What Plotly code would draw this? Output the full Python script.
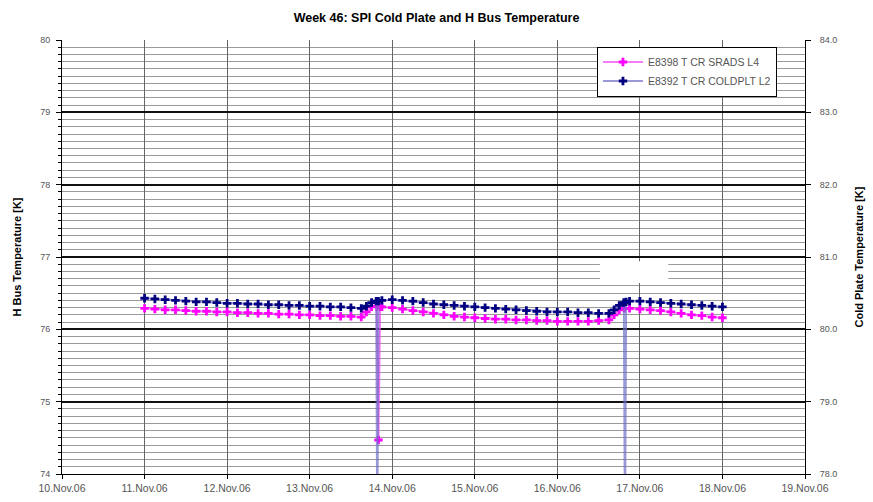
import plotly.graph_objects as go

# ---------------- data ----------------
hbus_times = [
    "2006-11-11 00:00", "2006-11-11 03:00", "2006-11-11 06:00", "2006-11-11 09:00",
    "2006-11-11 12:00", "2006-11-11 15:00", "2006-11-11 18:00", "2006-11-11 21:00",
    "2006-11-12 00:00", "2006-11-12 03:00", "2006-11-12 06:00", "2006-11-12 09:00",
    "2006-11-12 12:00", "2006-11-12 15:00", "2006-11-12 18:00", "2006-11-12 21:00",
    "2006-11-13 00:00", "2006-11-13 03:00", "2006-11-13 06:00", "2006-11-13 09:00",
    "2006-11-13 12:00", "2006-11-13 15:00", "2006-11-13 16:30", "2006-11-13 18:00",
    "2006-11-13 19:30", "2006-11-13 20:00", "2006-11-13 20:30", "2006-11-13 21:00",
    "2006-11-14 00:00", "2006-11-14 03:00", "2006-11-14 06:00", "2006-11-14 09:00",
    "2006-11-14 12:00", "2006-11-14 15:00", "2006-11-14 18:00", "2006-11-14 21:00",
    "2006-11-15 00:00", "2006-11-15 03:00", "2006-11-15 06:00", "2006-11-15 09:00",
    "2006-11-15 12:00", "2006-11-15 15:00", "2006-11-15 18:00", "2006-11-15 21:00",
    "2006-11-16 00:00", "2006-11-16 03:00", "2006-11-16 06:00", "2006-11-16 09:00",
    "2006-11-16 12:00", "2006-11-16 15:00", "2006-11-16 16:30", "2006-11-16 18:00",
    "2006-11-16 19:30", "2006-11-16 21:00",
    "2006-11-17 00:00", "2006-11-17 03:00", "2006-11-17 06:00", "2006-11-17 09:00",
    "2006-11-17 12:00", "2006-11-17 15:00", "2006-11-17 18:00", "2006-11-17 21:00",
    "2006-11-18 00:00",
]
hbus_values = [
    76.29, 76.28, 76.27, 76.27, 76.26, 76.25, 76.25, 76.24,
    76.24, 76.23, 76.23, 76.22, 76.22, 76.21, 76.21, 76.20,
    76.20, 76.19, 76.19, 76.18, 76.18, 76.17, 76.24, 76.31,
    76.32, 74.47, 76.31, 76.31,
    76.30, 76.28, 76.26, 76.24, 76.22, 76.20, 76.18, 76.17,
    76.16, 76.15, 76.14, 76.14, 76.13, 76.13, 76.12, 76.12,
    76.11, 76.11, 76.11, 76.11, 76.12, 76.13, 76.20, 76.27,
    76.29, 76.29,
    76.28, 76.27, 76.26, 76.24, 76.22, 76.20, 76.19, 76.17,
    76.16,
]

cold_times = [
    "2006-11-11 00:00", "2006-11-11 03:00", "2006-11-11 06:00", "2006-11-11 09:00",
    "2006-11-11 12:00", "2006-11-11 15:00", "2006-11-11 18:00", "2006-11-11 21:00",
    "2006-11-12 00:00", "2006-11-12 03:00", "2006-11-12 06:00", "2006-11-12 09:00",
    "2006-11-12 12:00", "2006-11-12 15:00", "2006-11-12 18:00", "2006-11-12 21:00",
    "2006-11-13 00:00", "2006-11-13 03:00", "2006-11-13 06:00", "2006-11-13 09:00",
    "2006-11-13 12:00", "2006-11-13 15:00", "2006-11-13 16:30", "2006-11-13 18:00",
    "2006-11-13 19:20", "2006-11-13 19:40", "2006-11-13 20:00", "2006-11-13 21:00",
    "2006-11-14 00:00", "2006-11-14 03:00", "2006-11-14 06:00", "2006-11-14 09:00",
    "2006-11-14 12:00", "2006-11-14 15:00", "2006-11-14 18:00", "2006-11-14 21:00",
    "2006-11-15 00:00", "2006-11-15 03:00", "2006-11-15 06:00", "2006-11-15 09:00",
    "2006-11-15 12:00", "2006-11-15 15:00", "2006-11-15 18:00", "2006-11-15 21:00",
    "2006-11-16 00:00", "2006-11-16 03:00", "2006-11-16 06:00", "2006-11-16 09:00",
    "2006-11-16 12:00", "2006-11-16 15:00", "2006-11-16 16:30", "2006-11-16 18:00",
    "2006-11-16 19:20", "2006-11-16 19:40", "2006-11-16 20:00", "2006-11-16 21:00",
    "2006-11-17 00:00", "2006-11-17 03:00", "2006-11-17 06:00", "2006-11-17 09:00",
    "2006-11-17 12:00", "2006-11-17 15:00", "2006-11-17 18:00", "2006-11-17 21:00",
    "2006-11-18 00:00",
]
cold_values = [
    80.43, 80.42, 80.41, 80.40, 80.39, 80.38, 80.38, 80.37,
    80.36, 80.36, 80.35, 80.35, 80.34, 80.34, 80.33, 80.33,
    80.32, 80.32, 80.31, 80.31, 80.30, 80.29, 80.32, 80.37,
    80.39, 77.00, 80.39, 80.40,
    80.41, 80.40, 80.39, 80.37, 80.35, 80.34, 80.33, 80.32,
    80.31, 80.30, 80.29, 80.28, 80.27, 80.26, 80.25, 80.24,
    80.24, 80.24, 80.23, 80.23, 80.22, 80.22, 80.27, 80.33,
    80.37, 77.00, 80.38, 80.39,
    80.39, 80.38, 80.37, 80.36, 80.35, 80.34, 80.33, 80.32,
    80.31,
]

hbus_name = "E8398 T CR SRADS L4"
cold_name = "E8392 T CR COLDPLT L2"
title_text = "Week 46: SPI Cold Plate and H Bus Temperature"
left_title = "H Bus Temperature [K]"
right_title = "Cold Plate Temperature [K]"
left_ticks = [74, 75, 76, 77, 78, 79, 80]
right_ticks = [78.0, 79.0, 80.0, 81.0, 82.0, 83.0, 84.0]

# ---------------- figure ----------------
FONT = "Liberation Sans, Arial, sans-serif"
fig = go.Figure()
fig.add_trace(go.Scatter(
    x=hbus_times, y=hbus_values, name=hbus_name, mode="lines+markers",
    line=dict(color="rgba(240,80,240,0.75)", width=2),
    marker=dict(symbol="cross", size=7, color="#ff00ff"),
    yaxis="y",
))
fig.add_trace(go.Scatter(
    x=cold_times, y=cold_values, name=cold_name, mode="lines+markers",
    line=dict(color="rgba(110,110,200,0.7)", width=2),
    marker=dict(symbol="cross", size=7, color="#000080"),
    yaxis="y2",
))

tick_font = dict(family=FONT, size=9, color="#555555")
xtick_font = dict(family=FONT, size=10.5, color="#555555")
title_font = dict(family=FONT, size=11, color="#000000")

fig.update_layout(
    width=873, height=502,
    margin=dict(l=62, r=68, t=40, b=28, autoexpand=False),
    paper_bgcolor="white", plot_bgcolor="white",
    title=dict(text="<b>" + title_text + "</b>", x=0.5, xanchor="center",
               y=0.964, yanchor="middle",
               font=dict(family=FONT, size=12.5, color="#000")),
    showlegend=True,
    legend=dict(x=0.72, y=0.985, xanchor="left", yanchor="top",
                bgcolor="white", bordercolor="#000", borderwidth=1,
                font=dict(family=FONT, size=10.5, color="#555"),
                itemwidth=40, tracegroupgap=2),
    xaxis=dict(
        type="date", range=["2006-11-10", "2006-11-19"],
        dtick=86400000, tickformat="%d.%b.%y",
        showgrid=True, gridcolor="#666666", gridwidth=1,
        showline=True, linecolor="#000", linewidth=1,
        ticks="outside", ticklen=4, tickcolor="#000",
        tickfont=xtick_font, zeroline=False, automargin=False,
    ),
    yaxis=dict(
        range=[74, 80], tickvals=left_ticks, ticktext=[str(v) for v in left_ticks],
        showgrid=True, gridcolor="#111111", gridwidth=1.5,
        showline=True, linecolor="#000", linewidth=1,
        ticks="outside", ticklen=5, tickcolor="#000",
        minor=dict(dtick=0.1, showgrid=True, gridcolor="#9a9a9a", gridwidth=1,
                   ticks="outside", ticklen=3, tickcolor="#000"),
        tickfont=tick_font, zeroline=False, automargin=False,
        ticklabelstandoff=4,
        title=dict(text="<b>" + left_title + "</b>", font=title_font, standoff=16),
    ),
    yaxis2=dict(
        range=[78, 84], tickvals=right_ticks, ticktext=["%.1f" % v for v in right_ticks],
        overlaying="y", side="right", showgrid=False,
        showline=True, linecolor="#000", linewidth=1,
        ticks="outside", ticklen=5, tickcolor="#000",
        tickfont=tick_font, zeroline=False, automargin=False,
        ticklabelstandoff=7,
        title=dict(text="<b>" + right_title + "</b>", font=title_font, standoff=18),
    ),
    shapes=[dict(type="rect", xref="paper", yref="paper",
                 x0=0.724, x1=0.816, y0=0.44, y1=0.49,
                 fillcolor="white", line=dict(width=0), layer="above")],
)

fig.write_html("out.html", config={"displayModeBar": False},
               post_script="document.body.style.margin='0';")
